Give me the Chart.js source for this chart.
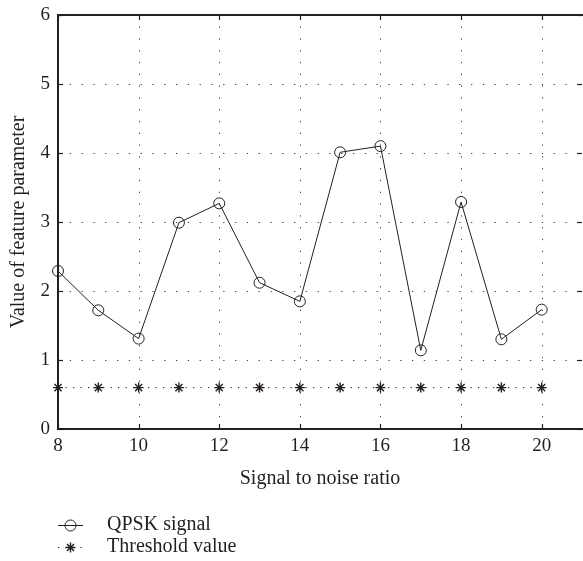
<!DOCTYPE html>
<html>
<head>
<meta charset="utf-8">
<script src="https://cdn.jsdelivr.net/npm/chart.js@4/dist/chart.umd.min.js"></script>
<style>
  html, body { margin: 0; padding: 0; background: #fff; }
  #wrap { width: 583px; height: 561px; }
</style>
</head>
<body>
<div id="wrap"><canvas id="chart" width="583" height="561"></canvas></div>
<script>
const snr = [8, 9, 10, 11, 12, 13, 14, 15, 16, 17, 18, 19, 20]
const qpsk = [2.29, 1.72, 1.31, 2.99, 3.27, 2.12, 1.85, 4.01, 4.10, 1.14, 3.29, 1.30, 1.73]
const threshold = [0.6, 0.6, 0.6, 0.6, 0.6, 0.6, 0.6, 0.6, 0.6, 0.6, 0.6, 0.6, 0.6]
const xTicks = [8, 10, 12, 14, 16, 18, 20]
const yTicks = [0, 1, 2, 3, 4, 5, 6]

const ink = '#231f20'
const serif = "'Liberation Serif', 'Times New Roman', serif"

// dotted grid, black frame and the small inward ticks
const framePlugin = {
  id: 'frame',
  beforeDatasetsDraw(chart) {
    const { ctx, chartArea: a, scales: { x, y } } = chart
    ctx.save()
    ctx.strokeStyle = '#444'
    ctx.lineWidth = 1
    ctx.setLineDash([1.3, 10.5])
    xTicks.slice(1).forEach(v => {
      const px = Math.round(x.getPixelForValue(v)) + 0.5
      ctx.beginPath(); ctx.moveTo(px, a.bottom); ctx.lineTo(px, a.top); ctx.stroke()
    })
    yTicks.slice(1, -1).forEach(v => {
      const py = Math.round(y.getPixelForValue(v)) + 0.5
      ctx.beginPath(); ctx.moveTo(a.left, py); ctx.lineTo(a.right, py); ctx.stroke()
    })
    ctx.setLineDash([])
    ctx.strokeStyle = ink
    ctx.lineWidth = 1.2
    const t = 5
    xTicks.forEach(v => {
      const px = Math.round(x.getPixelForValue(v)) + 0.5
      ctx.beginPath(); ctx.moveTo(px, a.bottom); ctx.lineTo(px, a.bottom - t); ctx.stroke()
      ctx.beginPath(); ctx.moveTo(px, a.top); ctx.lineTo(px, a.top + t); ctx.stroke()
    })
    yTicks.forEach(v => {
      const py = Math.round(y.getPixelForValue(v)) + 0.5
      ctx.beginPath(); ctx.moveTo(a.left, py); ctx.lineTo(a.left + t, py); ctx.stroke()
      ctx.beginPath(); ctx.moveTo(a.right, py); ctx.lineTo(a.right - t, py); ctx.stroke()
    })
    ctx.lineWidth = 2
    ctx.beginPath()
    ctx.moveTo(a.right + 2, a.top)
    ctx.lineTo(a.left, a.top)
    ctx.lineTo(a.left, a.bottom)
    ctx.lineTo(a.right + 2, a.bottom)
    ctx.stroke()
    ctx.restore()
  }
}

// legend stacked below the x axis title
const legendPlugin = {
  id: 'stackLegend',
  afterDraw(chart) {
    const { ctx } = chart
    const rows = [525, 547]
    ctx.save()
    chart.data.datasets.forEach((ds, i) => {
      const yy = rows[i]
      ctx.strokeStyle = ink
      ctx.lineWidth = 1
      ctx.setLineDash(ds.borderDash || [])
      ctx.beginPath(); ctx.moveTo(58, yy + 0.5); ctx.lineTo(83, yy + 0.5); ctx.stroke()
      ctx.setLineDash([])
      ctx.fillStyle = ds.pointBackgroundColor
      ctx.lineWidth = ds.pointBorderWidth
      Chart.helpers.drawPoint(ctx, {
        pointStyle: ds.pointStyle,
        radius: ds.pointRadius,
        borderWidth: ds.pointBorderWidth
      }, 70.5, yy + 0.5)
      ctx.fillStyle = ink
      ctx.font = '20px ' + serif
      ctx.textBaseline = 'middle'
      ctx.fillText(ds.label, 107, yy)
    })
    ctx.restore()
  }
}

const ctx = document.getElementById('chart').getContext('2d')
new Chart(ctx, {
  type: 'line',
  data: {
    datasets: [
      {
        label: 'QPSK signal',
        data: snr.map((v, i) => ({ x: v, y: qpsk[i] })),
        borderColor: ink,
        borderWidth: 1,
        pointStyle: 'circle',
        pointRadius: 5.5,
        pointBorderWidth: 1,
        pointBorderColor: ink,
        pointBackgroundColor: 'rgba(0,0,0,0)',
        tension: 0,
        clip: false
      },
      {
        label: 'Threshold value',
        data: snr.map((v, i) => ({ x: v, y: threshold[i] })),
        borderColor: ink,
        borderWidth: 1,
        borderDash: [1.3, 6.2],
        pointStyle: 'star',
        pointRadius: 5,
        pointBorderWidth: 1.4,
        pointBorderColor: ink,
        pointBackgroundColor: ink,
        tension: 0,
        clip: false
      }
    ]
  },
  options: {
    responsive: false,
    animation: false,
    layout: { autoPadding: false, padding: { top: 15, left: 0, right: 1, bottom: 70 } },
    plugins: {
      legend: { display: false },
      tooltip: { enabled: false }
    },
    scales: {
      x: {
        type: 'linear',
        min: 8,
        max: 21,
        grid: { display: false, drawTicks: false },
        border: { display: false },
        afterFit: s => {
          s.height = 62
          s.paddingLeft = 0
          s.paddingRight = 0
        },
        ticks: {
          stepSize: 2,
          includeBounds: false,
          padding: 6,
          color: ink,
          font: { family: serif, size: 19 }
        },
        title: {
          display: true,
          text: 'Signal to noise ratio',
          color: ink,
          font: { family: serif, size: 20 },
          padding: { top: 0, bottom: 0 }
        }
      },
      y: {
        min: 0,
        max: 6,
        grid: { display: false, drawTicks: false },
        border: { display: false },
        afterFit: s => {
          s.width = 58
          s.paddingTop = 0
          s.paddingBottom = 0
        },
        ticks: {
          stepSize: 1,
          padding: 8,
          color: ink,
          font: { family: serif, size: 19 }
        },
        title: {
          display: true,
          text: 'Value of feature parameter',
          color: ink,
          font: { family: serif, size: 20 },
          padding: { top: 7, bottom: 0 }
        }
      }
    }
  },
  plugins: [framePlugin, legendPlugin]
})
</script>
</body>
</html>
